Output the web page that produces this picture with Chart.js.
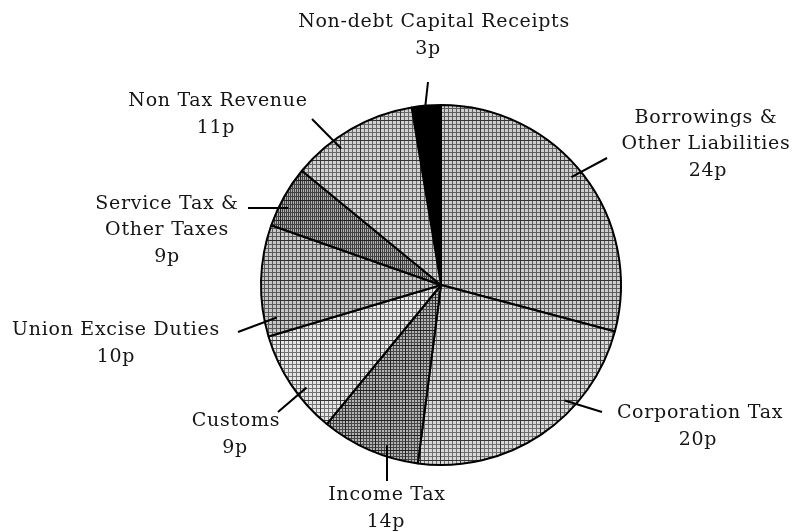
<!DOCTYPE html>
<html>
<head>
<meta charset="utf-8">
<script src="https://cdn.jsdelivr.net/npm/chart.js@4.4.0/dist/chart.umd.min.js"></script>
<style>
  html, body { margin: 0; background: #fff; }
  #wrap { width: 794px; height: 532px; }
</style>
</head>
<body>
<div id="wrap"><canvas id="myChart"></canvas></div>
<script>
// data (clockwise from the black slice)
const categories = [
  ["Non-debt Capital Receipts"],
  ["Borrowings &", "Other Liabilities"],
  ["Corporation Tax"],
  ["Income Tax"],
  ["Customs"],
  ["Union Excise Duties"],
  ["Service Tax &", "Other Taxes"],
  ["Non Tax Revenue"],
];
const valueLabels = ["3p", "24p", "20p", "14p", "9p", "10p", "9p", "11p"];
// slice sizes as drawn in the picture (degrees)
const sliceDegrees = [9.4, 105, 82.4, 32, 34, 36, 20, 41.2];

// label placement: text centre, value-line centre, leader outer end, leader anchor inside slice
const labelPos = [
  { x: 434, y: 22, vx: 428, lx: 428, ly: 82, t: 0.47, r: 1.0 },
  { x: 706, y: 118, vx: 708, lx: 607, ly: 158, t: 0.48, r: 0.94 },
  { x: 700, y: 413, vx: 698, lx: 602, ly: 412, t: 0.34, r: 0.94 },
  { x: 387, y: 495, vx: 386, lx: 387, ly: 481, t: 0.35, r: 0.94 },
  { x: 236, y: 421, vx: 235, lx: 278, ly: 412, t: 0.39, r: 0.94 },
  { x: 116, y: 330, vx: 116, lx: 238, ly: 332, t: 0.15, r: 0.93 },
  { x: 167, y: 204, vx: 167, lx: 248, ly: 208, t: 0.37, r: 0.95 },
  { x: 218, y: 101, vx: 216, lx: 312, ly: 119, t: 0.35, r: 0.94 },
];

function grid(bg, line, step, accent, extraV) {
  const n = step * 5;
  const c = document.createElement("canvas");
  c.width = n; c.height = n;
  const g = c.getContext("2d");
  g.fillStyle = bg;
  g.fillRect(0, 0, n, n);
  g.fillStyle = line;
  for (let i = 0; i < n; i += step) {
    g.fillRect(i, 0, 1, n);
    g.fillRect(0, i, n, 1);
  }
  if (extraV) {
    for (let i = 2; i < n; i += step) g.fillRect(i, 0, 1, n);
  }
  if (accent) {
    g.fillStyle = accent;
    g.fillRect(0, 0, 1, n);
    g.fillRect(0, 0, n, 1);
  }
  return g.createPattern(c, "repeat");
}

const fills = [
  "#000",
  grid("#cdcdcd", "#5e5e5e", 4, "#333"),
  grid("#d8d8d8", "#6e6e6e", 4, "#333"),
  grid("#b4b4b4", "#474747", 3, "#222"),
  grid("#e6e6e6", "#727272", 4, "#333"),
  grid("#c6c6c6", "#5a5a5a", 4, "#2e2e2e"),
  grid("#b0b0b0", "#424242", 4, "#222", true),
  grid("#d2d2d2", "#686868", 4, "#333"),
];

const labelPlugin = {
  id: "sliceLabels",
  afterDatasetsDraw(chart) {
    const ctx = chart.ctx;
    const arcs = chart.getDatasetMeta(0).data;
    ctx.save();
    arcs.forEach((arc, i) => {
      const p = arc.getProps(["x", "y", "startAngle", "endAngle", "outerRadius"], true);
      const pos = labelPos[i];
      const a = p.startAngle + (p.endAngle - p.startAngle) * pos.t;
      const r = p.outerRadius * pos.r;
      ctx.strokeStyle = "#000";
      ctx.lineWidth = 2;
      ctx.beginPath();
      ctx.moveTo(p.x + r * Math.cos(a), p.y + r * Math.sin(a));
      ctx.lineTo(pos.lx, pos.ly);
      ctx.stroke();

      ctx.fillStyle = "#151515";
      ctx.font = '19px "DejaVu Serif"';
      ctx.letterSpacing = "0.7px";
      ctx.textAlign = "center";
      ctx.textBaseline = "middle";
      const lines = categories[i];
      lines.forEach((t, k) => ctx.fillText(t, pos.x, pos.y + k * 26));
      ctx.fillText(valueLabels[i], pos.vx, pos.y + lines.length * 26 + 1);
    });
    ctx.restore();
  },
};

new Chart(document.getElementById("myChart"), {
  type: "pie",
  data: {
    labels: categories.map((c) => c.join(" ")),
    datasets: [
      {
        data: sliceDegrees,
        backgroundColor: fills,
        borderColor: "#000",
        borderWidth: 2,
        hoverOffset: 0,
      },
    ],
  },
  options: {
    responsive: true,
    maintainAspectRatio: false,
    animation: false,
    events: [],
    rotation: -sliceDegrees[0],
    layout: { padding: { left: 260, right: 172, top: 104, bottom: 66 } },
    plugins: {
      legend: { display: false },
      tooltip: { enabled: false },
    },
  },
  plugins: [labelPlugin],
});
</script>
</body>
</html>
